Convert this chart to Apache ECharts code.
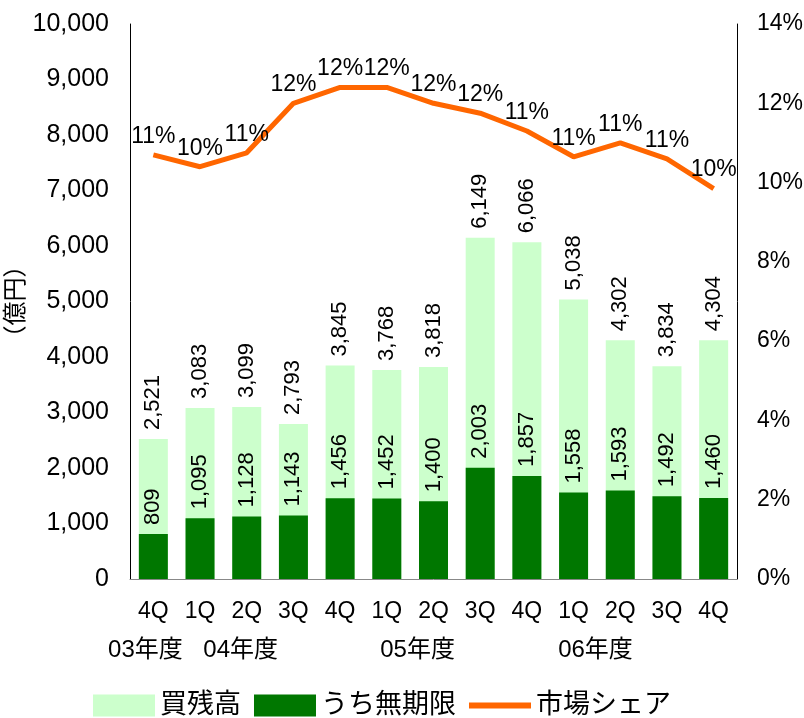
<!DOCTYPE html>
<html>
<head>
<meta charset="utf-8">
<script src="https://cdn.jsdelivr.net/npm/echarts@6/dist/echarts.min.js"></script>
<style>
  html, body { margin: 0; padding: 0; background: #fff; }
  #chart { width: 804px; height: 718px; }
</style>
</head>
<body>
<div id="chart"></div>
<script>
// 四半期ラベル
const quarters = ['4Q', '1Q', '2Q', '3Q', '4Q', '1Q', '2Q', '3Q', '4Q', '1Q', '2Q', '3Q', '4Q']
// 年度ラベル（位置はカテゴリ番号で表す）
const fiscalYears = ['03年度', '04年度', '05年度', '06年度']
const fiscalYearAt = [-0.17, 1.87, 5.66, 9.47]
// 買残高（億円）
const totalBalance = [2521, 3083, 3099, 2793, 3845, 3768, 3818, 6149, 6066, 5038, 4302, 3834, 4304]
// うち無期限（億円）
const unlimited = [809, 1095, 1128, 1143, 1456, 1452, 1400, 2003, 1857, 1558, 1593, 1492, 1460]
// 市場シェア（%）
const marketShare = [10.7, 10.4, 10.75, 12.0, 12.4, 12.4, 12.0, 11.75, 11.3, 10.65, 11.0, 10.6, 9.85]

const FONT = '"Liberation Sans", Arial, "Noto Sans CJK JP", sans-serif'
const comma = (v) => String(v).replace(/\B(?=(\d{3})+(?!\d))/g, ',')

const chart = echarts.init(document.getElementById('chart'))

const barLabel = {
  show: true,
  position: 'top',
  rotate: 90,
  align: 'left',
  verticalAlign: 'middle',
  distance: 9,
  color: '#000',
  fontFamily: FONT,
  fontSize: 22,
  formatter: (p) => comma(p.value),
}

chart.setOption({
  animation: false,
  textStyle: { fontFamily: FONT },
  grid: { left: 130, right: 67, top: 24, bottom: 139, outerBoundsMode: 'none' },
  legend: {
    left: 88,
    bottom: -6,
    itemWidth: 62,
    itemHeight: 22,
    itemGap: 13,
    itemStyle: { borderWidth: 0 },
    textStyle: { fontSize: 27, color: '#000', fontFamily: FONT },
    data: [
      { name: '買残高', icon: 'rect' },
      { name: 'うち無期限', icon: 'rect' },
      { name: '市場シェア', icon: 'path://M0,0h62v6h-62z' },
    ],
  },
  xAxis: {
    type: 'category',
    data: quarters,
    axisLine: { lineStyle: { color: '#888', width: 1 } },
    axisTick: { show: false },
    axisLabel: { color: '#000', fontSize: 23, margin: 21, interval: 0 },
  },
  yAxis: [
    {
      type: 'value',
      min: 0,
      max: 10000,
      interval: 1000,
      name: '（億円）',
      nameLocation: 'middle',
      nameRotate: 90,
      nameGap: 104,
      nameMoveOverlap: false,
      nameTextStyle: { fontSize: 24, color: '#000', fontFamily: '"Noto Sans CJK JP", sans-serif' },
      axisLine: { show: true, lineStyle: { color: '#000', width: 1 } },
      axisTick: { show: false },
      splitLine: { show: false },
      axisLabel: { color: '#000', fontSize: 25, margin: 21, formatter: (v) => comma(v) },
    },
    {
      type: 'value',
      min: 0,
      max: 14,
      interval: 2,
      axisLine: { show: true, lineStyle: { color: '#000', width: 1 } },
      axisTick: { show: false },
      splitLine: { show: false },
      axisLabel: { color: '#000', fontSize: 23, margin: 20, formatter: '{value}%' },
    },
  ],
  series: [
    {
      name: '買残高',
      type: 'bar',
      barWidth: 29,
      barGap: '-100%',
      itemStyle: { color: '#ccffcc' },
      label: barLabel,
      data: totalBalance,
    },
    {
      name: 'うち無期限',
      type: 'bar',
      barWidth: 29,
      barGap: '-100%',
      itemStyle: { color: '#007700' },
      label: barLabel,
      data: unlimited,
    },
    {
      name: '市場シェア',
      type: 'line',
      yAxisIndex: 1,
      symbol: 'circle',
      symbolSize: 0.1,
      lineStyle: { color: '#ff6600', width: 5 },
      itemStyle: { color: '#ff6600' },
      label: {
        show: true,
        position: 'top',
        distance: 7,
        color: '#000',
        fontSize: 23,
        formatter: (p) => Math.round(p.value) + '%',
      },
      data: marketShare,
    },
  ],
})

// 年度ラベル
const x0 = chart.convertToPixel({ xAxisIndex: 0 }, 0)
const x1 = chart.convertToPixel({ xAxisIndex: 0 }, 1)
chart.setOption({
  graphic: fiscalYears.map((t, i) => ({
    type: 'text',
    x: x0 + (x1 - x0) * fiscalYearAt[i],
    y: 650,
    style: {
      text: t,
      fontSize: 24,
      fontFamily: FONT,
      fill: '#000',
      textAlign: 'center',
      textVerticalAlign: 'middle',
    },
  })),
})
</script>
</body>
</html>
